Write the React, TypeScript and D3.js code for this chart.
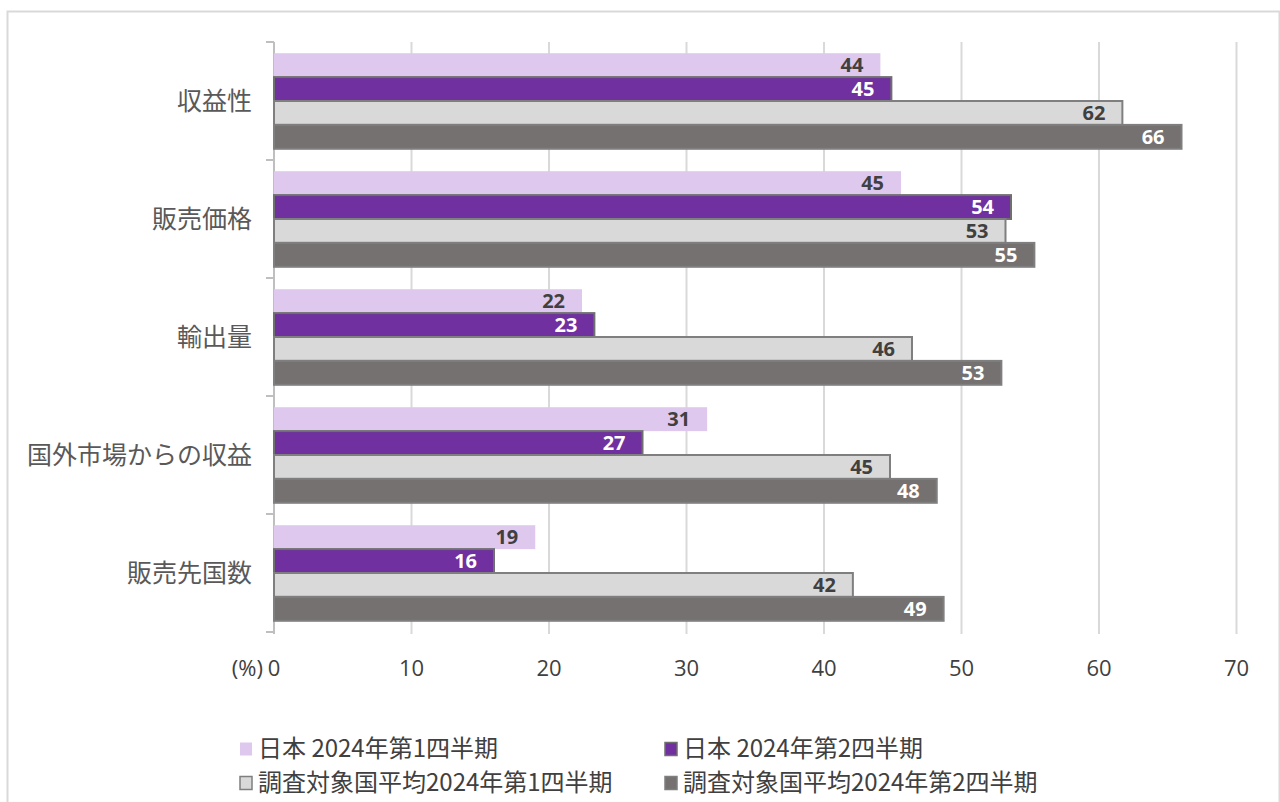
import React from "react";
import * as d3 from "d3";

const categories = ["収益性", "販売価格", "輸出量", "国外市場からの収益", "販売先国数"];
const seriesNames = [
  "日本 2024年第1四半期",
  "日本 2024年第2四半期",
  "調査対象国平均2024年第1四半期",
  "調査対象国平均2024年第2四半期",
];
const japanQ1 = [44.1, 45.6, 22.4, 31.5, 19.0];
const japanQ2 = [44.9, 53.6, 23.3, 26.8, 16.0];
const avgQ1 = [61.7, 53.2, 46.4, 44.8, 42.1];
const avgQ2 = [66.0, 55.3, 52.9, 48.2, 48.7];
const japanQ1Labels = [44, 45, 22, 31, 19];
const japanQ2Labels = [45, 54, 23, 27, 16];
const avgQ1Labels = [62, 53, 46, 45, 42];
const avgQ2Labels = [66, 55, 53, 48, 49];
const xTicks = [0, 10, 20, 30, 40, 50, 60, 70];

const seriesValues = [japanQ1, japanQ2, avgQ1, avgQ2];
const seriesLabels = [japanQ1Labels, japanQ2Labels, avgQ1Labels, avgQ2Labels];
const fills = ["#dfc8ed", "#7030a0", "#d9d9d9", "#767171"];
const strokes = ["none", "#6f6f6f", "#7f7f7f", "#7f7f7f"];
const labelColors = ["#404040", "#ffffff", "#404040", "#ffffff"];

const JP = "'Noto Sans CJK JP', 'Noto Sans', sans-serif";
const NUM = "'Open Sans', 'Noto Sans', sans-serif";

export default function App() {
  const W = 1280;
  const H = 802;
  const x = d3.scaleLinear().domain([0, 70]).range([274, 1236.5]);
  const y = d3.scaleBand<string>().domain(categories).range([42, 632]).paddingInner(0.19).paddingOuter(0.095);
  const inner = d3.scaleBand<number>().domain([0, 1, 2, 3]).range([0, y.bandwidth()]);
  const boundaries = d3.range(categories.length + 1).map((i) => 42 + (i * (632 - 42)) / categories.length);

  return (
    <svg width={W} height={H} style={{ position: "absolute", left: 0, top: 0, background: "#fff" }}>
      <rect x={7.5} y={11.5} width={1272} height={820} fill="#fff" stroke="#d9d9d9" strokeWidth={2} />
      {/* gridlines */}
      {xTicks.slice(1).map((t) => (
        <line key={t} x1={x(t)} x2={x(t)} y1={42} y2={634} stroke="#d9d9d9" strokeWidth={2} />
      ))}
      {/* left axis */}
      <line x1={274} x2={274} y1={42} y2={634} stroke="#bfbfbf" strokeWidth={2} />
      {boundaries.map((b, i) => (
        <line key={i} x1={266} x2={274} y1={b} y2={b} stroke="#bfbfbf" strokeWidth={2} />
      ))}
      {/* bars */}
      {categories.map((c, ci) =>
        seriesValues.map((vals, si) => {
          const y0 = (y(c) as number) + (inner(si) as number);
          const h = inner.bandwidth();
          const x1 = x(vals[ci]);
          return (
            <rect
              key={c + si}
              x={x(0)}
              y={y0}
              width={x1 - x(0)}
              height={h}
              fill={fills[si]}
              stroke={strokes[si]}
              strokeWidth={strokes[si] === "none" ? 0 : 2}
            />
          );
        })
      )}
      {categories.map((c, ci) =>
        seriesValues.map((vals, si) => {
          const y0 = (y(c) as number) + (inner(si) as number);
          const h = inner.bandwidth();
          return (
            <text
              key={"l" + c + si}
              x={x(vals[ci]) - 17}
              y={y0 + h / 2}
              dy="0.36em"
              textAnchor="end"
              fontFamily={NUM}
              fontWeight={700}
              fontSize={20}
              fill={labelColors[si]}
            >
              {seriesLabels[si][ci]}
            </text>
          );
        })
      )}
      {/* category labels */}
      {categories.map((c) => (
        <text
          key={c}
          x={252}
          y={(y(c) as number) + y.bandwidth() / 2}
          dy="0.35em"
          textAnchor="end"
          fontFamily={JP}
          fontSize={25}
          fill="#595959"
        >
          {c}
        </text>
      ))}
      {/* x tick labels */}
      {xTicks.map((t) => (
        <text key={t} x={x(t)} y={668} dy="0.35em" textAnchor="middle" fontFamily={NUM} fontSize={22} fill="#404040">
          {t}
        </text>
      ))}
      <text x={263} y={668} dy="0.35em" textAnchor="end" fontFamily={NUM} fontSize={22} fill="#404040">
        (%)
      </text>
      {/* legend */}
      {seriesNames.map((n, i) => {
        const lx = i % 2 === 0 ? 240 : 665;
        const ly = i < 2 ? 749 : 783;
        return (
          <g key={n}>
            <rect
              x={lx}
              y={ly - 6.5}
              width={12}
              height={13}
              fill={fills[i]}
              stroke={strokes[i]}
              strokeWidth={strokes[i] === "none" ? 0 : 1.5}
            />
            <text x={lx + 18} y={ly} dy="0.35em" fontFamily={JP} fontSize={24} fill="#404040">
              {n}
            </text>
          </g>
        );
      })}
    </svg>
  );
}
